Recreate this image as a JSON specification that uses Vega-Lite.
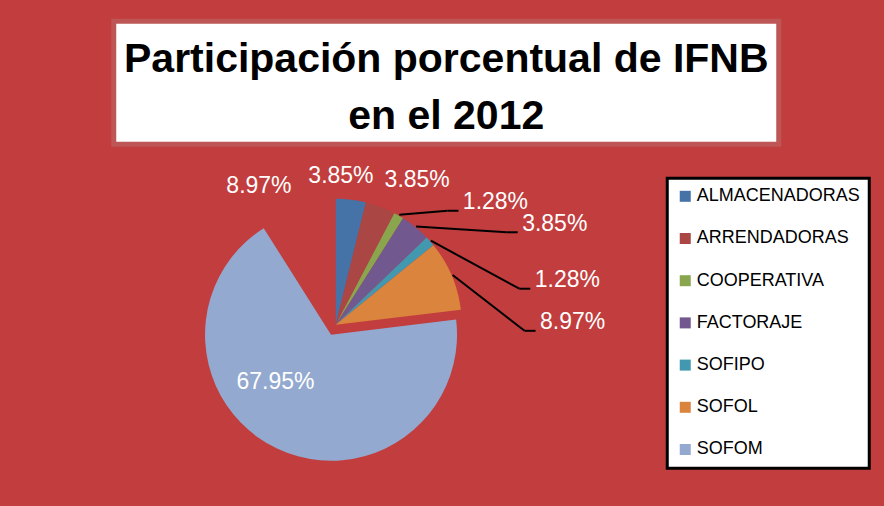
{
  "$schema": "https://vega.github.io/schema/vega-lite/v6.json",
  "background": "#c23d3d",
  "padding": {"left": 24, "top": 18.3, "right": 17, "bottom": 38.5},
  "bounds": "full",
  "center": true,
  "spacing": 18,
  "resolve": {"legend": {"color": "independent"}},
  "config": {
    "view": {"stroke": null},
    "font": "Liberation Sans",
    "legend": {"strokeColor": "black", "strokeWidth": 3, "fillColor": "white"}
  },
  "vconcat": [
    {
      "name": "titulo",
      "width": 665,
      "height": 123,
      "view": {"fill": "white", "stroke": "#bf5656", "strokeWidth": 5},
      "data": {"values": [{"titulo": "Participación porcentual de IFNB en el 2012"}]},
      "mark": {
        "type": "text",
        "text": ["Participación porcentual de IFNB", "en el 2012"],
        "font": "Liberation Sans",
        "fontSize": 41,
        "fontWeight": "bold",
        "lineHeight": 56.6,
        "align": "center",
        "baseline": "alphabetic",
        "color": "black",
        "dy": -10.6
      },
      "encoding": {}
    },
    {
      "name": "pie",
      "width": 623,
      "height": 293,
      "data": {
        "values": [
          {"Categoria": "ALMACENADORAS", "Porcentaje": 3.85, "orden": 1},
          {"Categoria": "ARRENDADORAS", "Porcentaje": 3.85, "orden": 2},
          {"Categoria": "COOPERATIVA", "Porcentaje": 1.28, "orden": 3},
          {"Categoria": "FACTORAJE", "Porcentaje": 3.85, "orden": 4},
          {"Categoria": "SOFIPO", "Porcentaje": 1.28, "orden": 5},
          {"Categoria": "SOFOL", "Porcentaje": 8.97, "orden": 6},
          {"Categoria": "SOFOM", "Porcentaje": 67.95, "orden": 7},
          {"Categoria": "", "Porcentaje": 8.97, "orden": 8}
        ]
      },
      "transform": [
        {"window": [{"op": "sum", "field": "Porcentaje", "as": "acum"}], "sort": [{"field": "orden"}], "frame": [null, 0]},
        {"calculate": "datum.acum - datum.Porcentaje / 2", "as": "medio"},
        {"calculate": "format(datum.Porcentaje, '.2f') + '%'", "as": "etiqueta"}
      ],
      "layer": [
        {
          "mark": {
            "type": "arc",
            "radius": 126,
            "x": {"expr": "pie_width / 2 + (datum.Categoria === 'SOFOM' ? 11 * sin(2 * PI * datum.medio / 100) : 0)"},
            "y": {"expr": "pie_height / 2 - (datum.Categoria === 'SOFOM' ? 11 * cos(2 * PI * datum.medio / 100) : 0)"}
          },
          "encoding": {
            "theta": {"field": "Porcentaje", "type": "quantitative", "stack": true},
            "order": {"field": "orden", "type": "quantitative"},
            "color": {
              "field": "Categoria",
              "type": "nominal",
              "scale": {
                "domain": ["ALMACENADORAS", "ARRENDADORAS", "COOPERATIVA", "FACTORAJE", "SOFIPO", "SOFOL", "SOFOM", ""],
                "range": ["#4572A7", "#AA4643", "#89A54E", "#71588F", "#4198AF", "#DB843D", "#93A9CF", "#D19392"]
              },
              "legend": {
                "title": null,
                "values": ["ALMACENADORAS", "ARRENDADORAS", "COOPERATIVA", "FACTORAJE", "SOFIPO", "SOFOL", "SOFOM"],
                "orient": "right",
                "offset": 19.5,
                "padding": 9,
                "rowPadding": 24.2,
                "labelFont": "Liberation Sans",
                "labelFontSize": 18,
                "labelLimit": 300,
                "labelColor": "black",
                "labelOffset": 2.5,
                "symbolType": "square",
                "symbolSize": 121,
                "symbolStrokeWidth": 0
              }
            }
          }
        },
        {
          "name": "etq",
          "mark": {"type": "text", "fontSize": 23, "font": "Liberation Sans", "color": "white", "align": "center", "baseline": "middle"},
          "encoding": {
            "theta": {
              "field": "medio",
              "type": "quantitative",
              "stack": null,
              "scale": {
                "type": "linear",
                "zero": false,
                "nice": false,
                "domain": [1.925, 5.775, 8.34, 11.905, 13.47, 18.595, 57.055, 95.515],
                "range": [0.0349, 0.5114, 0.9163, 1.2252, 1.3806, 1.5603, 3.9514, 5.777]
              }
            },
            "radius": {
              "field": "medio",
              "type": "quantitative",
              "scale": {
                "type": "linear",
                "zero": false,
                "nice": false,
                "domain": [1.925, 5.775, 8.34, 11.905, 13.47, 18.595, 57.055, 95.515],
                "range": [148.4, 166.4, 201.3, 256.7, 235.8, 236.8, 83.2, 158.4]
              }
            },
            "text": {"field": "etiqueta", "type": "nominal"}
          }
        },
        {
          "transform": [{"filter": {"field": "Categoria", "oneOf": ["COOPERATIVA", "FACTORAJE", "SOFIPO", "SOFOL"]}}],
          "mark": {"type": "rule", "color": "black", "strokeWidth": 2},
          "encoding": {
            "x": {"value": {"expr": "pie_width / 2 + 127 * sin(2 * PI * datum.medio / 100)"}},
            "y": {"value": {"expr": "pie_height / 2 - 127 * cos(2 * PI * datum.medio / 100)"}},
            "x2": {"value": {"expr": "pie_width / 2 + scale('etq_radius', datum.medio) * sin(scale('etq_theta', datum.medio)) - 48"}},
            "y2": {"value": {"expr": "pie_height / 2 - scale('etq_radius', datum.medio) * cos(scale('etq_theta', datum.medio)) + 8.5"}}
          }
        },
        {
          "transform": [{"filter": {"field": "Categoria", "oneOf": ["COOPERATIVA", "FACTORAJE", "SOFIPO", "SOFOL"]}}],
          "mark": {"type": "rule", "color": "black", "strokeWidth": 2},
          "encoding": {
            "x": {"value": {"expr": "pie_width / 2 + scale('etq_radius', datum.medio) * sin(scale('etq_theta', datum.medio)) - 48"}},
            "y": {"value": {"expr": "pie_height / 2 - scale('etq_radius', datum.medio) * cos(scale('etq_theta', datum.medio)) + 8.5"}},
            "x2": {"value": {"expr": "pie_width / 2 + scale('etq_radius', datum.medio) * sin(scale('etq_theta', datum.medio)) - 37"}},
            "y2": {"value": {"expr": "pie_height / 2 - scale('etq_radius', datum.medio) * cos(scale('etq_theta', datum.medio)) + 8.5"}}
          }
        }
      ],
      "resolve": {"scale": {"theta": "independent", "radius": "independent"}}
    }
  ]
}
